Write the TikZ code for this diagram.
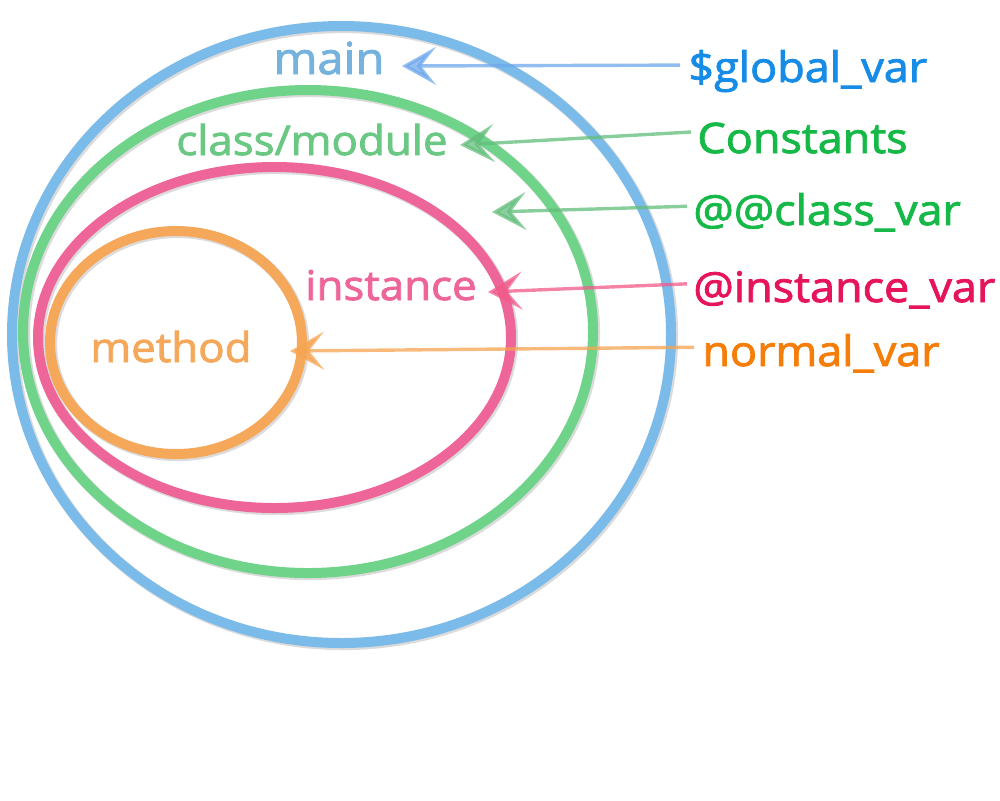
\documentclass[tikz,border=0pt]{standalone}
\usepackage{fontspec}
\setmainfont{Open Sans}[FakeStretch=1.07,FakeBold=2]
\usetikzlibrary{arrows.meta}
\definecolor{ringblue}{RGB}{123,187,234}
\definecolor{ringgreen}{RGB}{111,211,138}
\definecolor{ringpink}{RGB}{238,102,153}
\definecolor{ringorange}{RGB}{245,168,90}
\definecolor{varblue}{RGB}{22,140,230}
\definecolor{vargreen}{RGB}{22,185,72}
\definecolor{varpink}{RGB}{230,20,92}
\definecolor{varorange}{RGB}{245,125,10}
\begin{document}
\begin{tikzpicture}[x=0.5pt,y=-0.5pt,
	ring/.style={line width=5pt},
	ringshadow/.style={line width=5.6pt,gray!28,shift={(1.5,1.5)}},
	scope label/.style={inner sep=0pt,anchor=base,font=\fontsize{20.5}{24}\selectfont},
	var label/.style={inner sep=0pt,anchor=base west,font=\fontsize{21}{25}\selectfont},
	pointer/.style={line width=1.7pt,draw opacity=0.75,fill opacity=0.75,
		-{Stealth[length=17pt,width=19pt,inset=7.5pt]}}]
				\useasboundingbox (0,0) rectangle (1000,800);
				% Scope rings
				\draw[ringshadow] (341.5,334.5) ellipse [x radius=329.5,y radius=308.5];
				\draw[ringshadow] (308,331.5) ellipse [x radius=285,y radius=241.5];
				\draw[ringshadow] (274.5,337.5) ellipse [x radius=236.5,y radius=170.5];
				\draw[ringshadow] (176,342.5) ellipse [x radius=126,y radius=111.5];
				\draw[ring,ringblue] (341.5,334.5) ellipse [x radius=329.5,y radius=308.5];
				\draw[ring,ringgreen] (308,331.5) ellipse [x radius=285,y radius=241.5];
				\draw[ring,ringpink] (274.5,337.5) ellipse [x radius=236.5,y radius=170.5];
				\draw[ring,ringorange] (176,342.5) ellipse [x radius=126,y radius=111.5];
				% Scope names
				\node[scope label,text=ringblue!95!black,font=\fontsize{22}{25}\selectfont] (main) at (329,74) {main};
				\node[scope label,text=ringgreen!95!black] (module) at (312,155) {class/module};
				\node[scope label,text=ringpink] (instance) at (391,300) {instance};
				\node[scope label,text=ringorange] (method) at (171,362) {method};
				% Variable kinds
				\node[var label,text=varblue] (gvar) at (688,82) {\$global\_var};
				\node[var label,text=vargreen] (const) at (697,153) {Constants};
				\node[var label,text=vargreen] (cvar) at (693,225) {@@class\_var};
				\node[var label,text=varpink] (ivar) at (693,302) {@instance\_var};
				\node[var label,text=varorange] (lvar) at (702,366) {normal\_var};
				% Arrow tips
				\coordinate (main tip) at (402,66);
				\coordinate (module tip) at (460,145);
				\coordinate (cvar tip) at (492,212);
				\coordinate (instance tip) at (488,292);
				\coordinate (method tip) at (290,351);
				% Pointers
				\draw[pointer,ringblue!90!blue,fill=ringblue!90!blue] ([xshift=-4pt,yshift=3pt]gvar.west) -- (main tip);
				\draw[pointer,ringgreen!90!black,fill=ringgreen!90!black] ([xshift=-3pt,yshift=3pt]const.west) -- (module tip);
				\draw[pointer,ringgreen!90!black,fill=ringgreen!90!black] ([xshift=-3pt,yshift=3pt]cvar.west) -- (cvar tip);
				\draw[pointer,ringpink!90!red,fill=ringpink!90!red] ([xshift=-3pt,yshift=3pt]ivar.west) -- (instance tip);
				\draw[pointer,ringorange!90!orange,fill=ringorange!90!orange] ([xshift=-4pt,yshift=3pt]lvar.west) -- (method tip);
			\end{tikzpicture}
\end{document}
